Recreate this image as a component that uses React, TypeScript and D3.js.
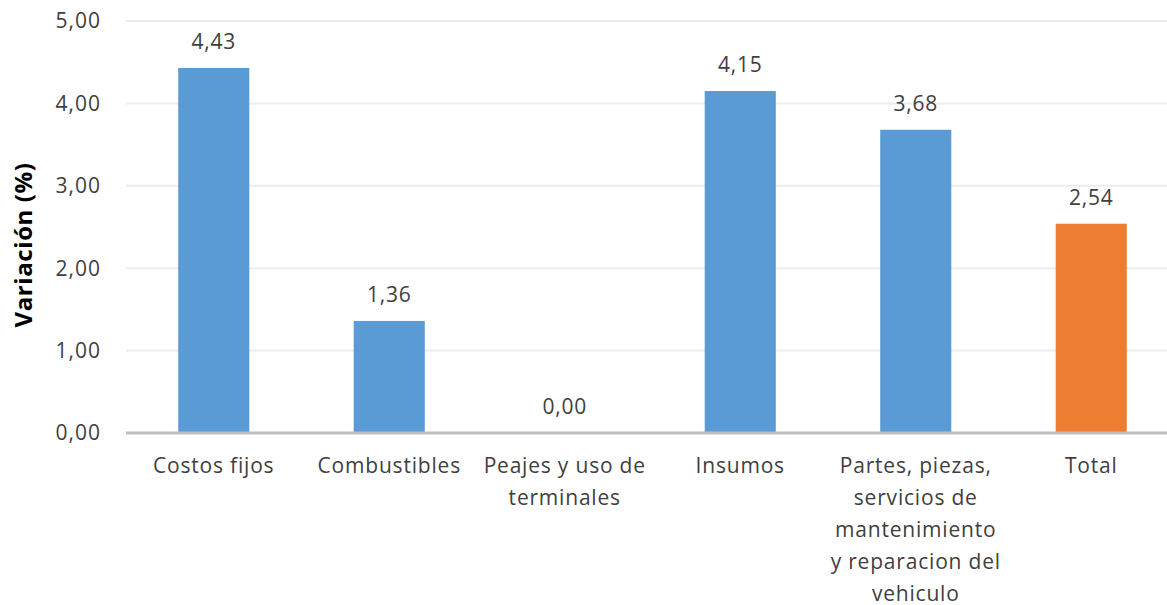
import React from 'react';
import * as d3 from 'd3';

const categories = [
  'Costos fijos',
  'Combustibles',
  'Peajes y uso de\nterminales',
  'Insumos',
  'Partes, piezas,\nservicios de\nmantenimiento\ny reparacion del\nvehiculo',
  'Total'
];
const values = [4.43, 1.36, 0.0, 4.15, 3.68, 2.54];
const barColors = ['#5b9bd5', '#5b9bd5', '#5b9bd5', '#5b9bd5', '#5b9bd5', '#ed7d31'];
const yTicks = [0, 1, 2, 3, 4, 5];

const width = 1167;
const height = 605;
// the plot runs a little past the right edge of the picture
const margin = { top: 21, right: -12, bottom: 172, left: 126 };
const font = '"Open Sans", "Noto Sans", sans-serif';
const fmt = (v: number) => v.toFixed(2).replace('.', ',');

export default function App() {
  const innerW = width - margin.left - margin.right;
  const innerH = height - margin.top - margin.bottom;

  const x = d3
    .scaleBand()
    .domain(categories)
    .range([0, innerW])
    .paddingInner(0.595)
    .paddingOuter(0.2975);

  const y = d3.scaleLinear().domain([0, 5]).range([innerH, 0]);

  return (
    <svg
      width={width}
      height={height}
      style={{ position: 'absolute', left: 0, top: 0, background: '#fff' }}
      fontFamily={font}
    >
      <g transform={`translate(${margin.left},${margin.top})`}>
        {yTicks.map(t => (
          <g key={t}>
            {t > 0 && (
              <line x1={0} x2={innerW} y1={y(t)} y2={y(t)} stroke="#ececec" strokeWidth={2} />
            )}
            <text
              x={-25}
              y={y(t)}
              dy="0.35em"
              textAnchor="end"
              fontSize={21}
              letterSpacing={1}
              fill="#404040"
            >
              {fmt(t)}
            </text>
          </g>
        ))}

        {categories.map((c, i) => (
          <rect
            key={c}
            x={x(c)}
            y={y(values[i])}
            width={x.bandwidth()}
            height={innerH - y(values[i])}
            fill={barColors[i]}
          />
        ))}

        <line x1={0} x2={innerW} y1={y(0)} y2={y(0)} stroke="#bfbfbf" strokeWidth={3} />

        {categories.map((c, i) => (
          <text
            key={c}
            x={x(c)! + x.bandwidth() / 2}
            y={y(values[i]) - 19}
            textAnchor="middle"
            fontSize={21}
            letterSpacing={0.8}
            fill="#404040"
          >
            {fmt(values[i])}
          </text>
        ))}

        {categories.map(c => (
          <text
            key={c}
            x={x(c)! + x.bandwidth() / 2}
            y={innerH + 40}
            textAnchor="middle"
            fontSize={21}
            letterSpacing={0.8}
            fill="#404040"
          >
            {c.split('\n').map((line, j) => (
              <tspan key={j} x={x(c)! + x.bandwidth() / 2} dy={j === 0 ? 0 : 32}>
                {line}
              </tspan>
            ))}
          </text>
        ))}
      </g>

      <text
        transform={`translate(32,245) rotate(-90)`}
        textAnchor="middle"
        fontSize={24}
        fontWeight="bold"
        letterSpacing={0.6}
        fill="#000"
      >
        Variación (%)
      </text>
    </svg>
  );
}
